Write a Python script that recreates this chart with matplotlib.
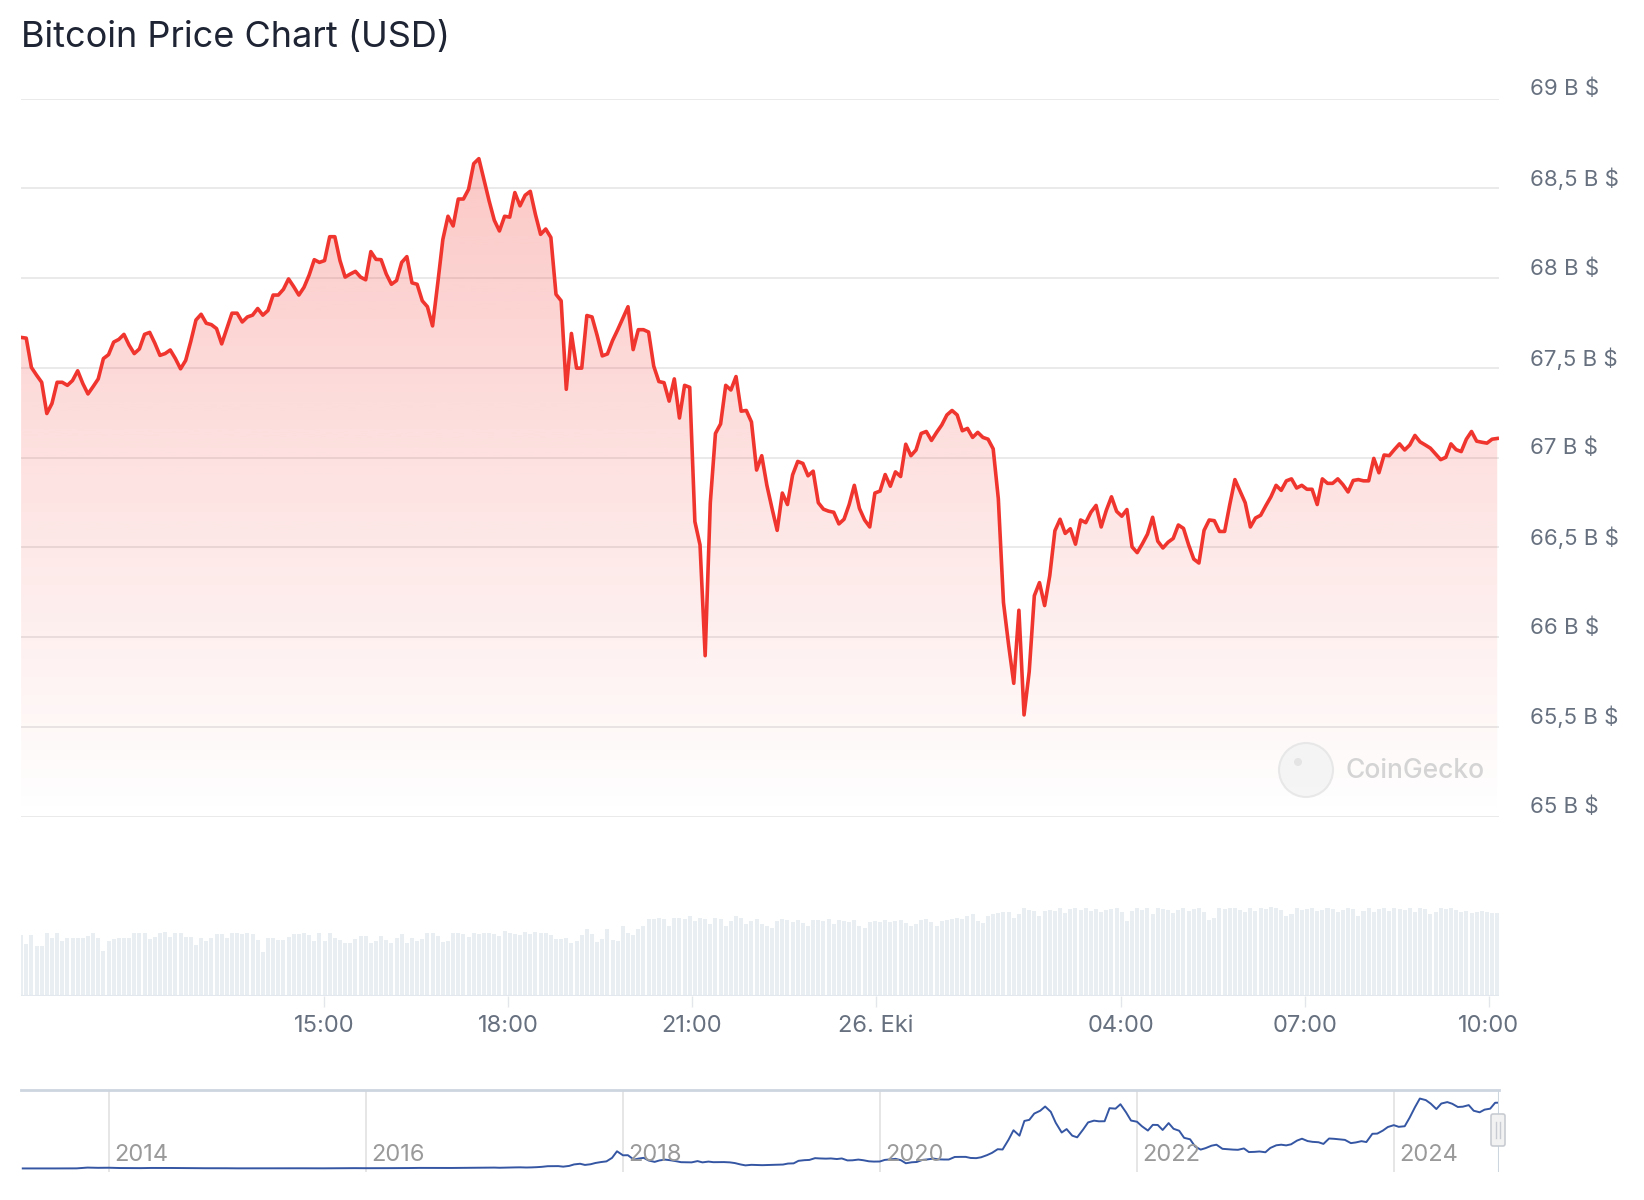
import matplotlib
matplotlib.use("Agg")
import matplotlib.pyplot as plt
import matplotlib.dates as mdates
import matplotlib.transforms as mtransforms
from matplotlib.patches import Circle, FancyBboxPatch
import numpy as np
import pandas as pd

plt.rcParams['font.family'] = ['Inter', 'DejaVu Sans']

W, H = 1644, 1200

# 24h price, ~5 minute steps (thousand USD)
price = [
    67.669, 67.665, 67.502, 67.459, 67.419, 67.245, 67.301, 67.419, 67.419, 67.402,
    67.429, 67.483, 67.412, 67.354, 67.395, 67.438, 67.551, 67.573, 67.643, 67.658,
    67.686, 67.626, 67.579, 67.605, 67.686, 67.697, 67.637, 67.569, 67.579, 67.599,
    67.551, 67.494, 67.541, 67.648, 67.766, 67.798, 67.748, 67.740, 67.718, 67.633,
    67.718, 67.804, 67.804, 67.755, 67.783, 67.793, 67.830, 67.793, 67.819, 67.905,
    67.905, 67.937, 67.995, 67.952, 67.905, 67.948, 68.016, 68.102, 68.087, 68.097,
    68.230, 68.230, 68.097, 68.005, 68.022, 68.037, 68.005, 67.990, 68.147, 68.104,
    68.102, 68.022, 67.965, 67.986, 68.087,
    68.119, 67.973, 67.965, 67.873, 67.840, 67.733, 67.969, 68.215, 68.344, 68.290,
    68.440, 68.440, 68.494, 68.637, 68.665, 68.547, 68.429, 68.322, 68.262, 68.344,
    68.339, 68.476, 68.402, 68.461, 68.483, 68.354, 68.243, 68.273, 68.226, 67.909,
    67.873, 67.380, 67.691, 67.498, 67.498, 67.791, 67.783, 67.680, 67.566, 67.577,
    67.652, 67.712, 67.776, 67.840, 67.601, 67.712, 67.712, 67.699, 67.509, 67.423,
    67.417, 67.314, 67.438, 67.220, 67.402, 67.391, 66.643, 66.513, 65.896, 66.748,
    67.134, 67.187, 67.402, 67.376, 67.451, 67.258, 67.262, 67.198, 66.930, 67.010,
    66.845, 66.716, 66.594, 66.802,
    66.738, 66.903, 66.978, 66.967, 66.898, 66.924, 66.748, 66.712, 66.701, 66.695,
    66.630, 66.656, 66.738, 66.845, 66.716, 66.652, 66.613, 66.802, 66.813, 66.905,
    66.840, 66.920, 66.894, 67.074, 67.010, 67.042, 67.134, 67.145, 67.095, 67.140,
    67.181, 67.237, 67.262, 67.237, 67.149, 67.162, 67.112, 67.140, 67.112, 67.102,
    67.048, 66.770, 66.192, 65.956, 65.742, 66.149, 65.566, 65.806, 66.230, 66.303,
    66.175, 66.342, 66.592, 66.656, 66.577, 66.603, 66.517, 66.652, 66.637, 66.695,
    66.733, 66.613, 66.706, 66.781, 66.700, 66.673, 66.710, 66.502, 66.470, 66.519,
    66.573, 66.667, 66.534, 66.496,
    66.528, 66.549, 66.624, 66.605, 66.513, 66.434, 66.412, 66.594, 66.652, 66.648,
    66.588, 66.588, 66.738, 66.877, 66.813, 66.748, 66.613, 66.663, 66.678, 66.731,
    66.781, 66.845, 66.817, 66.870, 66.881, 66.830, 66.845, 66.823, 66.823, 66.738,
    66.881, 66.856, 66.856, 66.881, 66.849, 66.808, 66.872, 66.877, 66.870, 66.870,
    66.995, 66.915, 67.014, 67.010, 67.044, 67.076, 67.042, 67.070, 67.123, 67.087,
    67.070, 67.052, 67.020, 66.988, 67.001, 67.076, 67.044, 67.033, 67.102, 67.145,
    67.091, 67.085, 67.080, 67.102, 67.106,
]

# trading volume per step (relative units)
volume = [
    61, 52, 61, 50, 50, 63, 58, 63, 55, 58, 58, 58, 58, 60, 63, 58, 45, 55, 57, 58, 58, 58, 63, 63,
    63, 57, 59, 63, 64, 59, 63, 63, 59, 59, 51, 58, 55, 58, 62, 62, 58, 63, 63, 62, 63, 62, 56, 44,
    58, 58, 56, 56, 59, 62, 62, 63, 61, 55, 63, 55, 63, 58, 56, 53, 53, 57, 60, 60, 53, 55, 60, 56,
    53, 58, 62, 53, 58, 55, 57, 63, 63, 60, 54, 55, 63, 63, 62, 59, 63, 62, 63, 63, 62, 60, 65, 63,
    62, 61, 64, 62, 64, 63, 63, 61, 57, 57, 58, 53, 55, 61, 67, 62, 54, 57, 67, 56, 55, 70, 63, 61,
    67, 70, 77, 77, 78, 77, 70, 78, 78, 77, 80, 75, 78, 77, 72, 78, 77, 70, 75, 80, 78, 72, 75, 77,
    72, 70, 68, 75, 77, 76, 74, 76, 73, 70, 76, 76, 75, 77, 72, 76, 75, 74, 76, 70, 68, 74, 75, 74,
    76, 74, 75, 76, 73, 70, 72, 76, 77, 74, 70, 75, 76, 77, 78, 77, 80, 82, 75, 73, 80, 82, 83, 84,
    84, 78, 82, 88, 86, 85, 80, 85, 86, 85, 88, 83, 87, 88, 86, 88, 85, 87, 84, 86, 87, 88, 84, 75,
    85, 88, 86, 88, 82, 88, 87, 86, 83, 86, 88, 85, 87, 88, 84, 76, 78, 88, 87, 88, 88, 86, 84, 88,
    85, 88, 87, 89, 88, 86, 80, 82, 88, 86, 87, 88, 85, 86, 88, 87, 84, 86, 88, 87, 80, 85, 88, 84,
    87, 88, 85, 88, 87, 86, 88, 84, 88, 87, 82, 84, 88, 87, 88, 86, 84, 85, 83, 84, 85, 84, 83, 83,
]

tick_times = ["2024-10-25 15:00", "2024-10-25 18:00", "2024-10-25 21:00", "2024-10-26 00:00",
              "2024-10-26 04:00", "2024-10-26 07:00", "2024-10-26 10:00"]
tick_labels = ["15:00", "18:00", "21:00", "26. Eki", "04:00", "07:00", "10:00"]

# navigator: price history (USD), monthly May 2013 .. Dec 2016
nav_early = [
    130, 100, 100, 130, 130, 200, 1000, 750,
    850, 550, 450, 450, 620, 640, 580, 480, 390, 340, 380, 320,
    220, 250, 245, 235, 230, 260, 285, 230, 236, 315, 380, 430,
    370, 437, 416, 448, 530, 670, 625, 575, 610, 700, 745, 960,
]
# then twice a month (1st / 15th) Jan 2017 .. Oct 2024, plus the last day
nav_late = [
    1000, 820, 980, 1010, 1190, 1250, 1080, 1180, 1420, 1750, 2400, 2450,
    2500, 1950, 2700, 4200, 4900, 3700, 4400, 5700, 6700, 7300, 10900, 17600,
    13500, 13600, 9100, 10200, 10900, 8200, 6800, 8300, 9100, 8500, 7500, 6500,
    6400, 6300, 7600, 6300, 7100, 6500, 6600, 6600, 6300, 5600, 4200, 3250,
    3800, 3600, 3450, 3600, 3800, 3900, 4100, 5100, 5300, 7900, 8550, 8800,
    10600, 10300, 10100, 10300, 9700, 10300, 8300, 8400, 9150, 8500, 7400, 7100,
    7200, 8800, 9400, 9900, 8500, 5400, 6400, 6700, 8800, 9300, 10200, 9400,
    9200, 9200, 11800, 11900, 11900, 10800, 10600, 11500, 13700, 16000, 19700, 19400,
    29400, 39000, 33500, 48500, 49600, 56000, 58900, 63200, 57800, 46700, 36700, 40200,
    33500, 31800, 39800, 47000, 48800, 48100, 48200, 61500, 61000, 65500, 57200, 48900,
    47700, 43100, 38700, 44500, 44400, 39300, 46300, 40500, 38500, 31300, 29800, 22500,
    19300, 20800, 23300, 24300, 20100, 19700, 19300, 19100, 20500, 16800, 17000, 17400,
    16600, 21000, 23700, 24300, 23600, 24700, 28500, 30400, 28000, 27200, 26800, 25100,
    30600, 30300, 29700, 29200, 25900, 26600, 27900, 27000, 35400, 35600, 38700, 42300,
    44200, 42500, 43100, 51800, 62400, 71300, 69700, 66100, 60600, 66200, 67700, 66000,
    62700, 63000, 64600, 58900, 57300, 60000, 61000, 67000, 67100,
]
nav_years = [2014, 2016, 2018, 2020, 2022, 2024]

times = pd.date_range("2024-10-25 10:03:30", periods=len(price), freq="302s")
x = mdates.date2num(times)
step = x[1] - x[0]

fig = plt.figure(figsize=(W / 100, H / 100), dpi=100)
fig.patch.set_facecolor("white")
px = mtransforms.Affine2D().scale(1 / 100) + fig.dpi_scale_trans


def box(l, t, r, b):
    return [l / W, 1 - b / H, (r - l) / W, (b - t) / H]


fig.text(21 / W, 1 - 47 / H, "Bitcoin Price Chart (USD)", fontsize=26,
         color="#1e2433", va="baseline", ha="left")

# ---- price pane
ax = fig.add_axes(box(21, 98.5, 1499, 816.5))
ax.set_xlim(mdates.date2num(pd.Timestamp("2024-10-25 10:03:24")),
            mdates.date2num(pd.Timestamp("2024-10-26 10:09:48")))
ax.set_ylim(65, 69)
yt = np.arange(65, 69.01, 0.5)
ax.set_yticks(yt)
ax.yaxis.tick_right()
ax.set_yticklabels([f"{v:g}".replace(".", ",") + " B $" for v in yt])
ax.tick_params(axis="y", length=0, pad=22, labelsize=16, labelcolor="#66707f")
lift = mtransforms.ScaledTranslation(0, 11.5 / 100, fig.dpi_scale_trans)
for lab in ax.get_yticklabels():
    lab.set_transform(lab.get_transform() + lift)
ax.set_xticks([])
ax.grid(axis="y", color="#e8e8e8", lw=1.3)
ax.set_axisbelow(True)
for s in ax.spines.values():
    s.set_visible(False)

poly = ax.fill_between(x, price, 65, color="none", lw=0)
grad = np.zeros((256, 1, 4))
grad[..., 0] = 242 / 255
grad[..., 1] = 58 / 255
grad[..., 2] = 50 / 255
grad[:, 0, 3] = np.linspace(0.28, 0.0, 256)
im = ax.imshow(grad, extent=[x[0], x[-1], 65, max(price)], aspect="auto",
               origin="upper", zorder=1)
im.set_clip_path(poly.get_paths()[0], transform=ax.transData)
ax.plot(x, price, color="#f0352f", lw=2.6, zorder=3, solid_joinstyle="round")

# watermark
fig.add_artist(Circle((1306, H - 770), 27, transform=px, facecolor="#f3f3f3",
                      edgecolor="#e4e4e4", lw=1.5, alpha=0.8))
fig.add_artist(Circle((1298, H - 762), 4, transform=px, facecolor="#e0e0e0",
                      edgecolor="none", alpha=0.8))
fig.text(1345 / W, 1 - 771 / H, "CoinGecko", fontsize=19, color="#d4d4d4",
         va="center", ha="left", fontweight="medium")

# ---- volume pane
axv = fig.add_axes(box(21, 895.6, 1499, 995.6))
axv.bar(x, volume, width=step * 0.78, color="#e9eef3", lw=0)
axv.set_xlim(ax.get_xlim())
axv.set_ylim(0, 100)
axv.set_yticks([])
for s in axv.spines.values():
    s.set_visible(False)
axv.axhline(0, color="#e3e8ee", lw=1.5)
axv.set_xticks(mdates.date2num(pd.to_datetime(tick_times)))
axv.set_xticklabels(tick_labels)
axv.tick_params(axis="x", length=8, width=1, color="#e3e6ea", pad=6,
                labelsize=17, labelcolor="#66707f")

# ---- navigator
axn = fig.add_axes(box(21, 1090, 1499, 1172))
d_early = pd.date_range("2013-05-01", periods=len(nav_early), freq="MS")
d_late = pd.date_range("2017-01-01", periods=len(nav_late) - 1, freq="SMS")
nav_dates = d_early.append(d_late).append(pd.DatetimeIndex(["2024-10-26"]))
nx = mdates.date2num(nav_dates)
axn.plot(nx, nav_early + nav_late, color="#3556a3", lw=1.4)
axn.set_xlim(mdates.date2num(pd.Timestamp("2013-04-26")), mdates.date2num(pd.Timestamp("2024-10-26")))
axn.set_ylim(-3500, 80000)
yr = mdates.date2num(pd.to_datetime([f"{y}-01-01" for y in nav_years]))
axn.set_xticks(yr)
axn.set_xticklabels([])
axn.set_yticks([])
axn.tick_params(length=0)
axn.grid(axis="x", color="#e2e2e2", lw=1.2)
for s in axn.spines.values():
    s.set_visible(False)
axn.spines["top"].set_visible(True)
axn.spines["top"].set_color("#cdd5df")
axn.spines["top"].set_linewidth(2)
axn.axvline(axn.get_xlim()[1], color="#cdd5df", lw=1.5)
off = mtransforms.offset_copy(axn.get_xaxis_transform(), fig=fig, x=5, y=0, units="dots")
for yv, label in zip(yr, nav_years):
    axn.text(yv, 0.137, str(label), transform=off, fontsize=17, color="#9a9a9a",
             ha="left", va="baseline", fontstretch="condensed")

# navigator handle
fig.add_artist(FancyBboxPatch((1491, H - 1146), 14, 32, boxstyle="round,pad=0,rounding_size=2",
                              transform=px, facecolor="#f2f2f2", edgecolor="#c8ccd2", lw=1.2))
for hx in (1496, 1500):
    fig.add_artist(plt.Line2D([hx, hx], [H - 1138, H - 1122], transform=px,
                              color="#c8ccd2", lw=1))

fig.savefig("out.png", dpi=100)
